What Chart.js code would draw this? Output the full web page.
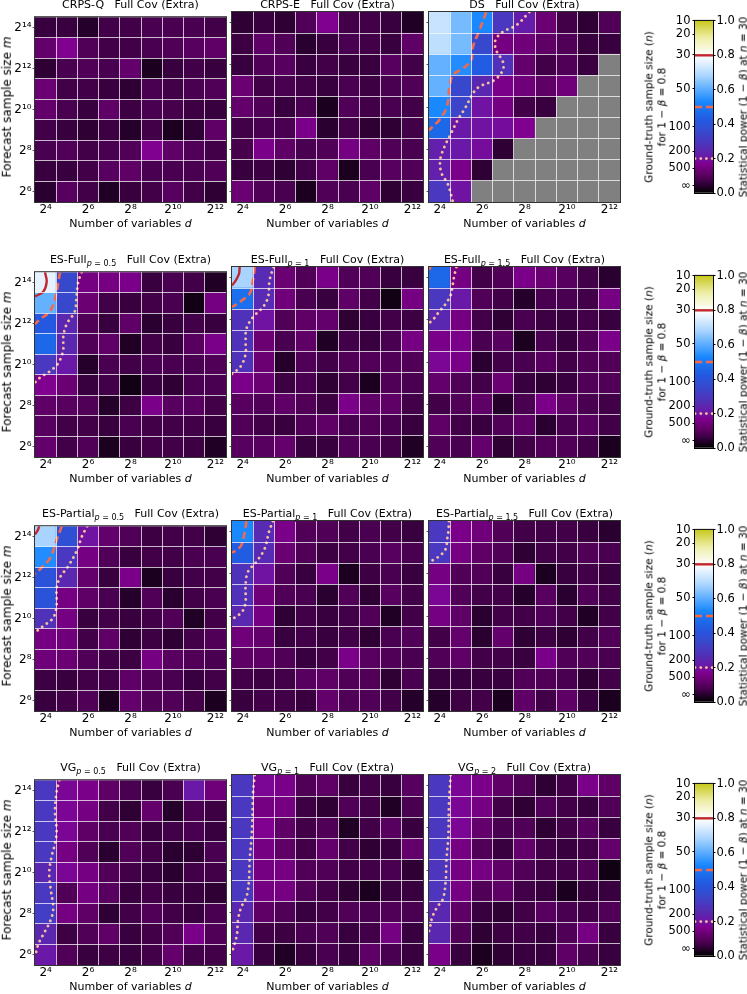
<!DOCTYPE html>
<html>
<head>
<meta charset="utf-8">
<script src="https://cdn.jsdelivr.net/npm/chart.js@4.4.1/dist/chart.umd.min.js"></script>
<style>
  body { margin: 0; width: 747px; height: 994px; background: #fff; position: relative; overflow: hidden;
         font-family: "DejaVu Sans", sans-serif; color: #000; }
  canvas { position: absolute; }
  .lbl { position: absolute; white-space: pre; text-align: center; line-height: 1.2; }
  .ttl { position: absolute; white-space: pre; text-align: center; font-size: 11px; line-height: 13px; }
  .ttl sub { font-size: 8px; line-height: 0; vertical-align: -3px; }
</style>
</head>
<body>
<script>
"use strict"

// log2 of number of variables d (columns) and forecast sample size m (rows, top first)
const dExp = [4, 5, 6, 7, 8, 9, 10, 11, 12]
const mExp = [14, 13, 12, 11, 10, 9, 8, 7, 6]
const xTickExp = [4, 6, 8, 10, 12]
const yTickExp = [6, 8, 10, 12, 14]

const scoreNames = ["CRPS-Q", "CRPS-E", "DS", "ES-Full", "ES-Full", "ES-Full",
                    "ES-Partial", "ES-Partial", "ES-Partial", "VG", "VG", "VG"]
const scoreParams = ["", "", "", "0.5", "1", "1.5", "0.5", "1", "1.5", "0.5", "1", "2"]
const setting = "Full Cov (Extra)"

// statistical power (1 - beta) at n = 30, rows m = 2^14 ... 2^6, null = not available
const crpsQ = [
  [0.06, 0.06, 0.04, 0.07, 0.07, 0.08, 0.08, 0.08, 0.07],
  [0.12, 0.17, 0.09, 0.07, 0.07, 0.08, 0.09, 0.10, 0.11],
  [0.05, 0.08, 0.09, 0.08, 0.12, 0.03, 0.06, 0.07, 0.06],
  [0.13, 0.07, 0.07, 0.06, 0.05, 0.08, 0.07, 0.08, 0.09],
  [0.12, 0.08, 0.06, 0.11, 0.065, 0.08, 0.075, 0.065, 0.06],
  [0.07, 0.06, 0.05, 0.065, 0.04, 0.07, 0.03, 0.05, 0.11],
  [0.08, 0.09, 0.07, 0.08, 0.09, 0.17, 0.11, 0.09, 0.07],
  [0.06, 0.06, 0.07, 0.10, 0.11, 0.08, 0.08, 0.08, 0.09],
  [0.045, 0.10, 0.07, 0.035, 0.06, 0.07, 0.10, 0.07, 0.05]
]
const crpsE = [
  [0.05, 0.06, 0.05, 0.09, 0.17, 0.07, 0.07, 0.06, 0.035],
  [0.065, 0.11, 0.09, 0.045, 0.06, 0.08, 0.07, 0.06, 0.11],
  [0.06, 0.09, 0.10, 0.06, 0.07, 0.06, 0.06, 0.10, 0.07],
  [0.13, 0.07, 0.08, 0.07, 0.06, 0.08, 0.065, 0.08, 0.09],
  [0.12, 0.09, 0.06, 0.08, 0.03, 0.09, 0.07, 0.08, 0.07],
  [0.07, 0.08, 0.08, 0.16, 0.045, 0.07, 0.05, 0.05, 0.07],
  [0.075, 0.16, 0.11, 0.08, 0.09, 0.15, 0.11, 0.09, 0.08],
  [0.06, 0.065, 0.05, 0.07, 0.11, 0.03, 0.08, 0.10, 0.09],
  [0.13, 0.09, 0.08, 0.03, 0.09, 0.08, 0.11, 0.05, 0.06]
]
const ds = [
  [0.72, 0.63, 0.53, 0.30, 0.22, 0.13, 0.07, 0.05, 0.09],
  [0.71, 0.63, 0.35, 0.15, 0.14, 0.11, 0.09, 0.06, 0.06],
  [0.61, 0.54, 0.43, 0.28, 0.12, 0.07, 0.09, 0.06, null],
  [0.61, 0.35, 0.25, 0.16, 0.14, 0.11, 0.14, null, null],
  [0.53, 0.34, 0.20, 0.15, 0.07, 0.06, null, null, null],
  [0.46, 0.21, 0.20, 0.19, 0.17, null, null, null, null],
  [0.23, 0.21, 0.19, 0.05, null, null, null, null, null],
  [0.23, 0.16, 0.05, null, null, null, null, null, null],
  [0.30, 0.20, null, null, null, null, null, null, null]
]
const esFull05 = [
  [0.76, 0.35, 0.15, 0.15, 0.16, 0.06, 0.08, 0.07, 0.035],
  [0.61, 0.35, 0.13, 0.07, 0.06, 0.07, 0.08, 0.02, 0.15],
  [0.42, 0.25, 0.09, 0.06, 0.11, 0.045, 0.06, 0.07, 0.06],
  [0.46, 0.25, 0.09, 0.11, 0.035, 0.07, 0.06, 0.10, 0.16],
  [0.30, 0.21, 0.04, 0.08, 0.07, 0.08, 0.08, 0.08, 0.09],
  [0.17, 0.13, 0.06, 0.07, 0.02, 0.06, 0.05, 0.08, 0.08],
  [0.11, 0.10, 0.09, 0.04, 0.065, 0.16, 0.10, 0.10, 0.07],
  [0.10, 0.07, 0.07, 0.06, 0.08, 0.07, 0.07, 0.07, 0.06],
  [0.12, 0.07, 0.09, 0.03, 0.06, 0.07, 0.07, 0.065, 0.035]
]
const esFull1 = [
  [0.68, 0.26, 0.13, 0.09, 0.16, 0.09, 0.09, 0.06, 0.06],
  [0.48, 0.26, 0.14, 0.08, 0.06, 0.11, 0.07, 0.02, 0.15],
  [0.28, 0.20, 0.09, 0.11, 0.12, 0.05, 0.06, 0.07, 0.065],
  [0.28, 0.13, 0.08, 0.11, 0.035, 0.07, 0.06, 0.08, 0.15],
  [0.28, 0.13, 0.04, 0.09, 0.07, 0.09, 0.09, 0.09, 0.09],
  [0.16, 0.13, 0.065, 0.08, 0.05, 0.07, 0.03, 0.09, 0.08],
  [0.10, 0.09, 0.11, 0.09, 0.065, 0.16, 0.11, 0.11, 0.07],
  [0.09, 0.07, 0.06, 0.09, 0.11, 0.08, 0.09, 0.08, 0.06],
  [0.10, 0.10, 0.12, 0.06, 0.06, 0.09, 0.08, 0.07, 0.035]
]
const esFull15 = [
  [0.46, 0.15, 0.07, 0.09, 0.16, 0.13, 0.10, 0.07, 0.045],
  [0.30, 0.21, 0.09, 0.07, 0.04, 0.08, 0.08, 0.07, 0.15],
  [0.25, 0.15, 0.07, 0.05, 0.08, 0.065, 0.06, 0.07, 0.06],
  [0.16, 0.16, 0.08, 0.10, 0.03, 0.08, 0.06, 0.09, 0.16],
  [0.18, 0.16, 0.045, 0.07, 0.08, 0.10, 0.07, 0.09, 0.09],
  [0.12, 0.09, 0.07, 0.13, 0.06, 0.05, 0.06, 0.09, 0.09],
  [0.07, 0.09, 0.11, 0.04, 0.08, 0.16, 0.11, 0.08, 0.07],
  [0.11, 0.07, 0.06, 0.09, 0.11, 0.045, 0.08, 0.10, 0.07],
  [0.09, 0.08, 0.12, 0.05, 0.07, 0.09, 0.09, 0.07, 0.03]
]
const esPart05 = [
  [0.68, 0.38, 0.20, 0.12, 0.09, 0.065, 0.07, 0.07, 0.05],
  [0.54, 0.30, 0.15, 0.09, 0.06, 0.07, 0.07, 0.08, 0.08],
  [0.40, 0.25, 0.12, 0.06, 0.16, 0.03, 0.06, 0.07, 0.07],
  [0.40, 0.15, 0.11, 0.08, 0.04, 0.09, 0.045, 0.07, 0.08],
  [0.28, 0.15, 0.06, 0.07, 0.06, 0.07, 0.09, 0.035, 0.07],
  [0.15, 0.14, 0.07, 0.11, 0.05, 0.065, 0.05, 0.07, 0.09],
  [0.14, 0.13, 0.09, 0.07, 0.065, 0.15, 0.10, 0.09, 0.08],
  [0.065, 0.06, 0.07, 0.07, 0.11, 0.09, 0.08, 0.06, 0.07],
  [0.06, 0.07, 0.09, 0.03, 0.12, 0.09, 0.09, 0.07, 0.03]
]
const esPart1 = [
  [0.53, 0.26, 0.16, 0.09, 0.09, 0.07, 0.08, 0.07, 0.06],
  [0.43, 0.26, 0.13, 0.09, 0.065, 0.07, 0.08, 0.10, 0.08],
  [0.28, 0.20, 0.09, 0.06, 0.16, 0.03, 0.065, 0.08, 0.06],
  [0.28, 0.14, 0.09, 0.08, 0.045, 0.09, 0.05, 0.10, 0.07],
  [0.25, 0.15, 0.05, 0.07, 0.06, 0.07, 0.09, 0.035, 0.07],
  [0.14, 0.12, 0.06, 0.07, 0.06, 0.07, 0.05, 0.08, 0.09],
  [0.11, 0.11, 0.09, 0.06, 0.07, 0.16, 0.10, 0.09, 0.08],
  [0.07, 0.065, 0.07, 0.10, 0.11, 0.09, 0.09, 0.05, 0.08],
  [0.06, 0.07, 0.07, 0.06, 0.12, 0.09, 0.09, 0.07, 0.04]
]
const esPart15 = [
  [0.30, 0.16, 0.14, 0.09, 0.07, 0.07, 0.07, 0.06, 0.045],
  [0.30, 0.15, 0.11, 0.09, 0.05, 0.07, 0.07, 0.09, 0.08],
  [0.15, 0.09, 0.09, 0.06, 0.15, 0.03, 0.06, 0.07, 0.06],
  [0.18, 0.09, 0.07, 0.07, 0.04, 0.10, 0.045, 0.09, 0.07],
  [0.15, 0.11, 0.045, 0.07, 0.07, 0.09, 0.07, 0.035, 0.07],
  [0.07, 0.12, 0.045, 0.12, 0.05, 0.065, 0.05, 0.07, 0.09],
  [0.09, 0.11, 0.07, 0.07, 0.06, 0.16, 0.09, 0.09, 0.08],
  [0.06, 0.06, 0.06, 0.06, 0.09, 0.09, 0.08, 0.05, 0.07],
  [0.04, 0.065, 0.07, 0.03, 0.11, 0.07, 0.11, 0.06, 0.03]
]
const vg05 = [
  [0.30, 0.18, 0.16, 0.11, 0.08, 0.06, 0.08, 0.21, 0.14],
  [0.30, 0.18, 0.15, 0.07, 0.05, 0.12, 0.04, 0.08, 0.065],
  [0.30, 0.18, 0.11, 0.08, 0.09, 0.06, 0.07, 0.08, 0.06],
  [0.30, 0.15, 0.09, 0.045, 0.09, 0.07, 0.045, 0.05, 0.08],
  [0.25, 0.18, 0.15, 0.09, 0.07, 0.06, 0.045, 0.07, 0.07],
  [0.30, 0.09, 0.15, 0.10, 0.06, 0.07, 0.06, 0.06, 0.05],
  [0.32, 0.15, 0.11, 0.05, 0.07, 0.09, 0.07, 0.06, 0.08],
  [0.25, 0.065, 0.09, 0.11, 0.06, 0.07, 0.09, 0.16, 0.09],
  [0.21, 0.09, 0.06, 0.065, 0.06, 0.07, 0.12, 0.07, 0.07]
]
const vg1 = [
  [0.30, 0.18, 0.16, 0.09, 0.11, 0.06, 0.07, 0.06, 0.10],
  [0.30, 0.15, 0.15, 0.065, 0.05, 0.09, 0.07, 0.035, 0.08],
  [0.30, 0.17, 0.11, 0.07, 0.09, 0.035, 0.07, 0.10, 0.06],
  [0.30, 0.15, 0.11, 0.07, 0.12, 0.07, 0.05, 0.06, 0.12],
  [0.30, 0.15, 0.15, 0.09, 0.09, 0.07, 0.07, 0.08, 0.05],
  [0.30, 0.15, 0.15, 0.09, 0.07, 0.05, 0.03, 0.06, 0.06],
  [0.25, 0.11, 0.09, 0.06, 0.07, 0.09, 0.08, 0.09, 0.08],
  [0.25, 0.07, 0.065, 0.08, 0.09, 0.06, 0.07, 0.15, 0.06],
  [0.21, 0.06, 0.035, 0.06, 0.08, 0.06, 0.11, 0.08, 0.06]
]
const vg2 = [
  [0.30, 0.18, 0.16, 0.11, 0.09, 0.05, 0.07, 0.16, 0.11],
  [0.30, 0.18, 0.15, 0.07, 0.05, 0.09, 0.07, 0.06, 0.09],
  [0.30, 0.18, 0.12, 0.08, 0.09, 0.05, 0.07, 0.10, 0.06],
  [0.30, 0.15, 0.09, 0.06, 0.12, 0.07, 0.06, 0.07, 0.12],
  [0.29, 0.15, 0.15, 0.11, 0.09, 0.07, 0.07, 0.09, 0.02],
  [0.29, 0.15, 0.09, 0.11, 0.07, 0.06, 0.03, 0.06, 0.06],
  [0.25, 0.11, 0.06, 0.05, 0.07, 0.10, 0.08, 0.07, 0.09],
  [0.25, 0.09, 0.05, 0.065, 0.07, 0.06, 0.09, 0.15, 0.06],
  [0.16, 0.06, 0.03, 0.05, 0.06, 0.06, 0.11, 0.08, 0.06]
]
const powers = [crpsQ, crpsE, ds, esFull05, esFull1, esFull15, esPart05, esPart1, esPart15, vg05, vg1, vg2]

// iso-power paths [log2 d, log2 m]
const dsDash = [[6.2, 14.5], [5.88, 13.64], [5.57, 12.85], [5.49, 12.22], [5.1, 11.83], [4.63, 11.52], [4.47, 10.97], [4.35, 10.03], [4.0, 9.4], [3.5, 8.9]]
const dsDot = [[8.23, 14.5], [7.61, 13.87], [6.98, 13.56], [6.63, 13.17], [6.66, 12.7], [6.98, 12.15], [6.98, 11.75], [6.59, 11.28], [5.88, 10.97], [5.57, 10.65], [5.25, 10.03], [4.86, 9.4], [4.55, 8.77], [4.24, 8.14], [4.03, 7.51], [4.08, 6.89], [4.39, 6.34], [4.63, 5.5]]
const esFull05Solid = [[3.97, 14.5], [4.05, 14.03], [3.89, 13.55], [3.5, 13.32]]
const esFull05Dash = [[4.68, 14.5], [4.6, 14.03], [4.49, 13.39], [4.21, 12.6], [3.74, 12.21], [3.5, 11.97]]
const esFull05Dot = [[5.7, 14.5], [5.54, 14.03], [5.46, 13.39], [5.38, 12.6], [4.99, 11.97], [4.83, 11.34], [4.83, 10.71], [4.6, 10.08], [4.21, 9.68], [3.74, 9.37], [3.5, 9.13]]
const esFull1Solid = [[3.86, 14.5], [3.83, 14.18], [3.63, 13.79], [3.5, 13.63]]
const esFull1Dash = [[4.57, 14.5], [4.49, 13.87], [4.33, 13.24], [3.86, 12.84], [3.5, 12.6]]
const esFull1Dot = [[5.46, 14.5], [5.27, 13.87], [5.2, 13.08], [4.96, 12.6], [4.49, 12.13], [4.18, 11.58], [4.14, 11.02], [4.14, 10.39], [3.94, 9.84], [3.63, 9.52], [3.5, 9.44]]
const esFull15Dash = [[3.57, 14.5], [3.5, 14.38]]
const esFull15Dot = [[4.79, 14.5], [4.68, 14.03], [4.6, 13.55], [4.52, 13.16], [4.29, 12.76], [3.97, 12.37], [3.66, 11.97], [3.5, 11.85]]
const esPart05Solid = [[3.7, 14.5], [3.63, 14.3], [3.5, 14.1]]
const esPart05Dash = [[4.76, 14.5], [4.52, 13.82], [4.21, 12.95], [3.81, 12.48], [3.5, 12.17]]
const esPart05Dot = [[5.96, 14.5], [5.7, 13.98], [5.49, 13.35], [5.07, 12.56], [4.68, 12.01], [4.52, 11.46], [4.52, 10.67], [4.36, 10.04], [3.89, 9.64], [3.5, 9.33]]
const esPart1Dash = [[4.18, 14.5], [4.1, 13.98], [3.94, 13.35], [3.7, 13.11], [3.5, 13.0]]
const esPart1Dot = [[5.43, 14.5], [5.24, 13.98], [5.04, 13.19], [4.64, 12.56], [4.25, 12.09], [4.14, 11.46], [4.14, 10.67], [4.02, 10.27], [3.7, 9.96], [3.5, 9.88]]
const esPart15Dot = [[4.44, 14.5], [4.41, 13.98], [4.36, 13.66], [4.29, 13.19], [4.05, 12.88], [3.81, 12.72], [3.5, 12.55]]
const vg05Dot = [[4.65, 14.5], [4.52, 13.92], [4.44, 12.97], [4.52, 12.03], [4.44, 11.4], [4.28, 10.77], [4.17, 9.98], [4.24, 9.19], [4.36, 8.25], [4.21, 7.62], [3.89, 6.99], [3.66, 6.52], [3.5, 5.9]]
const vg1Dot = [[4.57, 14.5], [4.49, 13.6], [4.46, 12.34], [4.41, 11.4], [4.33, 10.45], [4.3, 9.51], [4.18, 8.72], [3.94, 8.25], [3.78, 7.62], [3.74, 6.99], [3.63, 6.52], [3.5, 6.1]]
const vg2Dot = [[4.52, 14.5], [4.44, 13.13], [4.41, 11.56], [4.32, 10.45], [4.29, 9.51], [4.16, 8.64], [3.89, 8.25], [3.66, 7.78], [3.55, 7.3], [3.5, 7.1]]

const contours = [
  [], [],
  [[0.5, dsDash], [0.2, dsDot]],
  [[0.8, esFull05Solid], [0.5, esFull05Dash], [0.2, esFull05Dot]],
  [[0.8, esFull1Solid], [0.5, esFull1Dash], [0.2, esFull1Dot]],
  [[0.5, esFull15Dash], [0.2, esFull15Dot]],
  [[0.8, esPart05Solid], [0.5, esPart05Dash], [0.2, esPart05Dot]],
  [[0.5, esPart1Dash], [0.2, esPart1Dot]],
  [[0.2, esPart15Dot]],
  [[0.2, vg05Dot]],
  [[0.2, vg1Dot]],
  [[0.2, vg2Dot]]
]

// colorbar
const levels = [0.8, 0.5, 0.2]
const powerTicks = [0, 0.2, 0.4, 0.6, 0.8, 1.0]
const nTickPos = [1.0, 0.923, 0.804, 0.606, 0.385, 0.244, 0.144, 0.042]
const nTickLabels = ["10", "20", "30", "50", "100", "200", "500", "∞"]

// ---- styles ----
const cmapStops = [
  [0.00, "#000000"], [0.04, "#24002a"], [0.07, "#420048"], [0.10, "#580060"], [0.13, "#6a0072"],
  [0.17, "#800090"], [0.21, "#6a18a8"], [0.25, "#5a28b0"], [0.30, "#4a38c0"], [0.35, "#3848cc"],
  [0.42, "#2458e0"], [0.48, "#1a70ee"], [0.53, "#1a88ff"], [0.60, "#5aacff"], [0.68, "#a8d4ff"],
  [0.76, "#e6f2ff"], [0.80, "#ffffff"], [0.90, "#eeeeaa"], [1.00, "#c8c820"]
]
const nanColor = "#808080"
const lineStyle = {
  0.8: { color: "#c1272d", width: 2.4, dash: [], cap: "butt" },
  0.5: { color: "#f4694b", width: 2.6, dash: [7, 4], cap: "butt" },
  0.2: { color: "#f7bf9f", width: 2.8, dash: [0.1, 5.6], cap: "round" }
}
const colLeft = [35, 232, 429]
const rowTop = [12, 267, 521, 775]
const panelW = 191, panelH = 190
const yAxisW = 35, xAxisH = 24

Chart.defaults.font.family = "DejaVu Sans"
Chart.defaults.color = "#000"

const SUP = "⁰¹²³⁴⁵⁶⁷⁸⁹"
const pow2 = e => "2" + String(e).split("").map(ch => SUP[+ch]).join("")

function hexRgb(h) { return [1, 3, 5].map(i => parseInt(h.slice(i, i + 2), 16)) }
function cmap(v) {
  if (v == null) return nanColor
  for (let i = 1; i < cmapStops.length; i++) {
    const [v1, c1] = cmapStops[i]
    if (v <= v1) {
      const [v0, c0] = cmapStops[i - 1]
      const t = (v - v0) / (v1 - v0)
      const a = hexRgb(c0), b = hexRgb(c1)
      return "rgb(" + a.map((x, k) => Math.round(x + (b[k] - x) * t)).join(",") + ")"
    }
  }
  return cmapStops[cmapStops.length - 1][1]
}

function addCanvas(left, top, w, h) {
  const c = document.createElement("canvas")
  c.width = w; c.height = h
  c.style.left = left + "px"; c.style.top = top + "px"
  c.style.width = w + "px"; c.style.height = h + "px"
  document.body.appendChild(c)
  return c
}
function addLabel(html, cx, cy, size, rotate, cls) {
  const el = document.createElement("div")
  el.className = cls || "lbl"
  el.innerHTML = html
  el.style.fontSize = size + "px"
  el.style.left = cx + "px"; el.style.top = cy + "px"
  el.style.transform = "translate(-50%,-50%)" + (rotate ? " rotate(-90deg)" : "")
  document.body.appendChild(el)
  return el
}

const frame = color => ({
  id: "frame",
  afterDraw(ch) {
    const a = ch.chartArea, c = ch.ctx
    c.save(); c.strokeStyle = color; c.lineWidth = 1
    c.strokeRect(a.left - 0.5, a.top - 0.5, a.right - a.left + 1, a.bottom - a.top + 1)
    c.restore()
  }
})

function lineSet(path, lv, yAxisID) {
  const st = lineStyle[lv]
  return {
    type: "line", data: path.map(([x, y]) => ({ x, y })), yAxisID: yAxisID || "y",
    borderColor: st.color, borderWidth: st.width, borderDash: st.dash, borderCapStyle: st.cap,
    pointRadius: 0, tension: 0.35, fill: false, clip: 0, order: 0
  }
}

// scale used only to draw the white cell boundaries on top of the cells
function edgeScale(pos, min, max, edges, horizontal) {
  return {
    type: "linear", min, max, position: pos, offset: false,
    afterBuildTicks: s => { s.ticks = edges.map(v => ({ value: v })) },
    ticks: { display: false }, border: { display: false },
    grid: { z: 1, offset: false, color: "rgba(255,255,255,0.72)", lineWidth: 1, drawTicks: false },
    afterFit: s => { if (horizontal) s.height = 0; else s.width = 0 }
  }
}

function heatmap(i) {
  const row = Math.floor(i / 3), col = i % 3
  const vals = powers[i]
  const cells = []
  mExp.forEach((m, r) => dExp.forEach((d, c) => cells.push({ x: d, y: [m - 0.5, m + 0.5], v: vals[r][c] })))
  const xEdges = dExp.slice(1).map(v => v - 0.5)
  const yEdges = mExp.slice(1).map(v => v + 0.5)
  const canvas = addCanvas(colLeft[col] - yAxisW, rowTop[row] - 3, yAxisW + panelW + 3, 3 + panelH + xAxisH)
  new Chart(canvas, {
    type: "bar",
    data: {
      datasets: [{
        data: cells, backgroundColor: ctx => cmap(ctx.raw ? ctx.raw.v : null),
        grouped: false, barPercentage: 1, categoryPercentage: 1, borderWidth: 0, order: 2
      }].concat(contours[i].map(([lv, p]) => lineSet(p, lv)))
    },
    options: {
      responsive: false, animation: false, events: [],
      layout: { padding: { top: 3, right: 3, left: 0, bottom: 0 } },
      plugins: { legend: { display: false }, tooltip: { enabled: false } },
      scales: {
        x: {
          type: "linear", min: 3.5, max: 12.5, offset: false, position: "bottom",
          afterBuildTicks: s => { s.ticks = xTickExp.map(v => ({ value: v })) },
          ticks: { callback: v => pow2(v), font: { size: 12 }, padding: 1, maxRotation: 0, autoSkip: false },
          grid: { display: false, drawTicks: false, offset: false }, border: { display: false },
          afterFit: s => { s.height = xAxisH }
        },
        y: {
          type: "linear", min: 5.5, max: 14.5, position: "left",
          afterBuildTicks: s => { s.ticks = yTickExp.map(v => ({ value: v })) },
          ticks: { display: col === 0, callback: v => pow2(v), font: { size: 12 }, padding: 1, autoSkip: false },
          grid: { drawOnChartArea: false, drawTicks: true, tickLength: 2.5, color: "#555" },
          border: { display: false },
          afterFit: s => { s.width = yAxisW }
        },
        xg: edgeScale("top", 3.5, 12.5, xEdges, true),
        yg: edgeScale("right", 5.5, 14.5, yEdges, false)
      }
    },
    plugins: [frame("#333")]
  })

  const cx = colLeft[col] + panelW / 2
  const name = scoreParams[i]
    ? scoreNames[i] + "<sub><i>p</i> = " + scoreParams[i] + "</sub>"
    : scoreNames[i]
  const t = addLabel(name + "   " + setting, cx, 0, 11, false, "ttl")
  t.style.transform = "translateX(-50%)"
  t.style.top = (rowTop[row] - 14) + "px"
  addLabel("Number of variables <i>d</i>", cx, rowTop[row] + panelH + 22, 11)
  if (col === 0) addLabel("Forecast sample size <i>m</i>", 7, rowTop[row] + panelH / 2, 12, true)
}

function colorbar(row) {
  const top = rowTop[row] + 8, h = 173
  const canvas = addCanvas(620, top - 8, 127, 8 + h + 11)
  new Chart(canvas, {
    type: "bar",
    data: {
      datasets: [{
        data: [{ x: 0.5, y: [0, 1] }], yAxisID: "yp",
        backgroundColor: ctx => {
          const ch = ctx.chart, s = ch.scales.yp
          if (!ch.chartArea || !s) return "#000"
          const g = ch.ctx.createLinearGradient(0, s.getPixelForValue(0), 0, s.getPixelForValue(1))
          cmapStops.forEach(([v, c]) => g.addColorStop(v, c))
          return g
        },
        barPercentage: 1, categoryPercentage: 1, borderWidth: 0, order: 2
      }].concat(levels.map(lv => lineSet([[0, lv], [1, lv]], lv, "yp")))
    },
    options: {
      responsive: false, animation: false, events: [],
      layout: { padding: { top: 8, bottom: 11, left: 0, right: 0 } },
      plugins: { legend: { display: false }, tooltip: { enabled: false } },
      scales: {
        x: {
          type: "linear", min: 0, max: 1, display: false, offset: false,
          afterBuildTicks: s => { s.ticks = [{ value: 0 }, { value: 1 }] }
        },
        yn: {
          type: "linear", position: "left", min: 0, max: 1,
          afterBuildTicks: s => { s.ticks = nTickPos.map(v => ({ value: v })) },
          ticks: { callback: v => nTickLabels[nTickPos.indexOf(v)], font: { size: 11.5 }, padding: 2, autoSkip: false },
          grid: { drawOnChartArea: false, tickLength: 2.5, color: "#000" }, border: { display: false },
          afterFit: s => { s.width = 75 }
        },
        yp: {
          type: "linear", position: "right", min: 0, max: 1,
          afterBuildTicks: s => { s.ticks = powerTicks.map(v => ({ value: v })) },
          ticks: { callback: v => v.toFixed(1), font: { size: 11.5 }, padding: 1, autoSkip: false },
          grid: { drawOnChartArea: false, tickLength: 2.5, color: "#000" }, border: { display: false },
          afterFit: s => { s.width = 34 }
        }
      }
    },
    plugins: [frame("#000")]
  })
  const cy = top + h / 2
  addLabel("Ground-truth sample size (<i>n</i>)<br>for 1 − <i>β</i> = 0.8", 655, cy, 10.5, true)
  addLabel("Statistical power (1 − <i>β</i>) at <i>n</i> = 30", 742.5, cy, 10.5, true)
}

for (let i = 0; i < powers.length; i++) heatmap(i)
for (let r = 0; r < rowTop.length; r++) colorbar(r)
</script>
</body>
</html>
